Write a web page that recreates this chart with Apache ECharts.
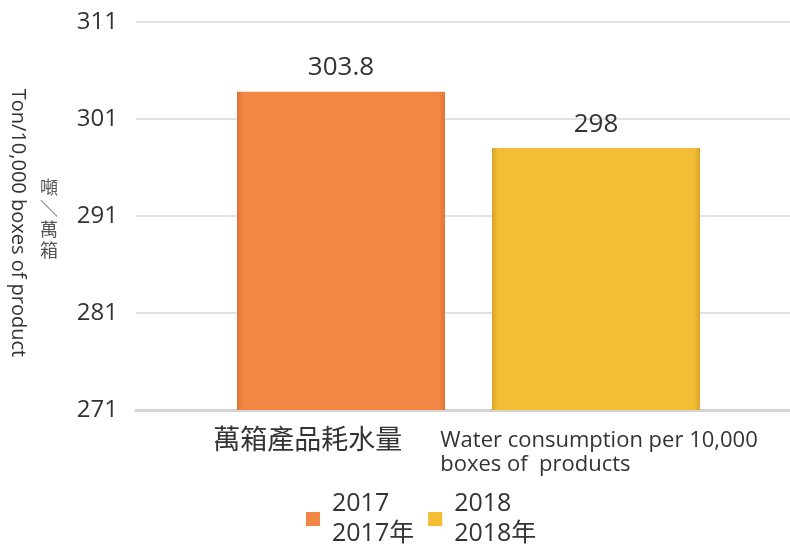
<!DOCTYPE html>
<html>
<head>
<meta charset="utf-8">
<script src="https://cdn.jsdelivr.net/npm/echarts@6/dist/echarts.min.js"></script>
<style>
	html, body { margin: 0; padding: 0; background: #fff; }
	#chart { width: 790px; height: 549px; }
</style>
</head>
<body>
<div id="chart"></div>
<script>
	// 資料
	const categories = ['萬箱產品耗水量'];
	const categoryEn = ['Water consumption per 10,000', 'boxes of  products'];
	const seriesNames = ['2017', '2018'];
	const seriesNamesZh = ['2017年', '2018年'];
	const values2017 = [303.8];
	const values2018 = [298];
	const yTicks = [271, 281, 291, 301, 311];
	const yNameEn = 'Ton/10,000 boxes of product';
	const yNameZh = ['噸', '＼', '萬', '箱']; // 直排

	const FONT = "'Open Sans', 'Noto Sans CJK TC', sans-serif";

	// 柱子漸層
	function barGradient(edge, mid) {
		return new echarts.graphic.LinearGradient(0, 0, 1, 0, [
			{ offset: 0, color: edge },
			{ offset: 0.03, color: mid },
			{ offset: 0.97, color: mid },
			{ offset: 1, color: edge }
		]);
	}

	const myChart = echarts.init(document.getElementById('chart'));

	const option = {
		animation: false,
		textStyle: { fontFamily: FONT },
		title: {
			text: yNameZh.join('\n'),
			left: 40,
			top: 178,
			padding: 0,
			textStyle: {
				fontFamily: FONT,
				fontSize: 18,
				lineHeight: 21,
				fontWeight: 'normal',
				color: '#555'
			}
		},
		grid: {
			left: 136,
			width: 665,
			top: 22,
			bottom: 139,
			outerBoundsMode: 'none'
		},
		legend: {
			left: 301,
			top: 484,
			itemWidth: 14,
			itemHeight: 14,
			itemGap: 14,
			icon: 'rect',
			data: seriesNames,
			formatter: function(name) {
				return name + '\n' + seriesNamesZh[seriesNames.indexOf(name)];
			},
			textStyle: {
				fontFamily: FONT,
				fontSize: 25,
				lineHeight: 30,
				color: '#333',
				padding: [0, 0, 0, 7]
			}
		},
		xAxis: {
			type: 'category',
			data: categories,
			axisLine: {
				lineStyle: { color: '#d4d4d4', width: 3 }
			},
			axisTick: { show: false },
			axisLabel: {
				margin: 19,
				padding: [0, 0, 0, 34],
				formatter: function(v) {
					return '{zh|' + v + '}{en|' + categoryEn[0] + '}\n{pad|}{en|' + categoryEn[1] + '}';
				},
				rich: {
					zh: { fontFamily: FONT, fontSize: 27, color: '#333', width: 227, lineHeight: 24, align: 'left' },
					en: { fontFamily: FONT, fontSize: 22, color: '#333', lineHeight: 24, align: 'left' },
					pad: { width: 227, lineHeight: 24, align: 'left' }
				}
			}
		},
		yAxis: {
			type: 'value',
			min: yTicks[0],
			max: yTicks[yTicks.length - 1],
			interval: 10,
			name: yNameEn,
			nameLocation: 'middle',
			nameRotate: -90,
			nameGap: 106,
			nameTextStyle: {
				fontFamily: FONT,
				fontSize: 20,
				lineHeight: 24,
				color: '#333',
				padding: [0, 0, 0, 14]
			},
			axisLine: { show: false },
			axisTick: { show: false },
			axisLabel: {
				margin: 18,
				fontFamily: FONT,
				fontSize: 24,
				color: '#333'
			},
			splitLine: {
				lineStyle: { color: '#d9d9d9', width: 1.5 }
			}
		},
		series: [{
				name: seriesNames[0],
				type: 'bar',
				data: values2017,
				barWidth: 208,
				barGap: '22.6%',
				itemStyle: {
					color: barGradient('#e0733a', '#f28744')
				},
				label: {
					show: true,
					position: 'top',
					distance: 11,
					fontFamily: FONT,
					fontSize: 26,
					color: '#333'
				}
			},
			{
				name: seriesNames[1],
				type: 'bar',
				data: values2018,
				barWidth: 208,
				itemStyle: {
					color: barGradient('#d9a428', '#f4be34')
				},
				label: {
					show: true,
					position: 'top',
					distance: 11,
					fontFamily: FONT,
					fontSize: 26,
					color: '#333'
				}
			}
		]
	};

	myChart.setOption(option);
</script>
</body>
</html>
